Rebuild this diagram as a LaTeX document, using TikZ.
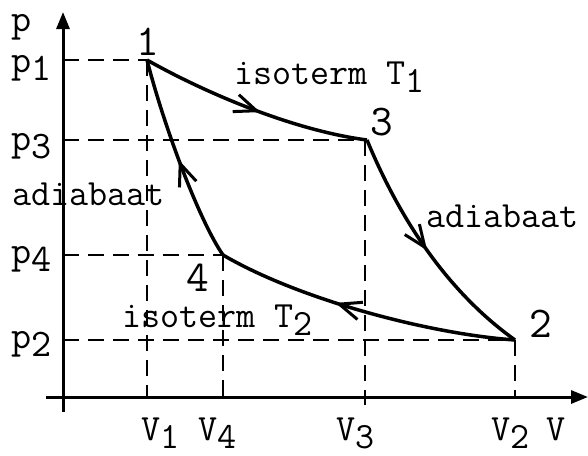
\documentclass[tikz,border=0pt]{standalone}
\usepackage{fontspec}
\usetikzlibrary{arrows.meta,decorations.markings}
\newcommand\lowsub[1]{\raisebox{-8pt}{#1}}
\begin{document}
\begin{tikzpicture}[x=1pt,y=-1pt,
  curve/.style={line width=3.5pt},
  axis/.style={line width=3pt,-{Triangle[length=17pt,width=13pt]}},
  guide/.style={line width=2.8pt,dash pattern=on 16pt off 9pt},
  lbl/.style={font=\ttfamily\fontsize{37}{40}\selectfont, inner sep=0pt, anchor=base west},
  plbl/.style={font=\ttfamily\fontsize{39}{42}\selectfont, inner sep=0pt, anchor=base west},
  num/.style={font=\ttfamily\fontsize{44}{48}\selectfont, inner sep=0pt},
  midarrow/.style={postaction={decorate,decoration={markings,mark=at position #1 with {\arrow{Straight Barb[length=22pt,width=18pt,line width=3pt]}}}}}
]
\useasboundingbox (0,0) rectangle (588,455);
% axes
\coordinate (ybot) at (63,412);
\coordinate (ytop) at (63,12);
\coordinate (xl) at (46,397);
\coordinate (xr) at (588,397);
\draw[axis] (ybot) -- (ytop);
\draw[axis] (xl) -- (xr);
% state points
\coordinate (P1) at (147,60);
\coordinate (P3) at (367,140);
\coordinate (P4) at (223,255);
\coordinate (P2) at (515,340);
% axis feet
\coordinate (a1) at (63,60);
\coordinate (a3) at (63,140);
\coordinate (a4) at (63,255);
\coordinate (a2) at (63,340);
\coordinate (b1) at (147,397);
\coordinate (b4) at (223,397);
\coordinate (t3) at (365,140);
\coordinate (b3) at (365,405);
\coordinate (b2) at (515,397);
% guides
\draw[guide] (a1) -- (P1);
\draw[guide] (a3) -- (P3);
\draw[guide] (a4) -- (P4);
\draw[guide] (a2) -- (P2);
\draw[guide] (P1) -- (b1);
\draw[guide] (P4) -- (b4);
\draw[guide] (t3) -- (b3);
\draw[guide] (P2) -- (b2);
% cycle
\draw[curve,midarrow=0.53] (P1) .. controls (200,90) and (290,130) .. (P3);
\draw[curve,midarrow=0.5] (P3) .. controls (398,215) and (445,290) .. (P2);
\draw[curve,midarrow=0.6] (P2) .. controls (430,334) and (300,300) .. (P4);
\draw[curve,midarrow=0.5] (P4) .. controls (200,222) and (165,130) .. (P1);
% labels
\node[plbl] (lp) at (11,31) {p};
\node[plbl] (lp1) at (11,72) {p\lowsub{1}};
\node[plbl] (lp3) at (11,150) {p\lowsub{3}};
\node[plbl] (lp4) at (11,263) {p\lowsub{4}};
\node[plbl] (lp2) at (11,348) {p\lowsub{2}};
\node[num] (n1) at (148,42) {1};
\node[num] (n3) at (382,122) {3};
\node[num] (n4) at (198,278) {4};
\node[num] (n2) at (541,324) {2};
\node[lbl] (iso1) at (234,84) {isoterm T\lowsub{1}};
\node[lbl] (iso2) at (122,327) {isoterm T\lowsub{2}};
\node[lbl] (ad1) at (12,205) {adiabaat};
\node[lbl] (ad2) at (426,227) {adiabaat};
\node[lbl] (v1) at (141,440) {V\lowsub{1}};
\node[lbl] (v4) at (198,440) {V\lowsub{4}};
\node[lbl] (v3) at (336,440) {V\lowsub{3}};
\node[lbl] (v2) at (491,440) {V\lowsub{2}};
\node[lbl] (v) at (546,440) {V};
\end{tikzpicture}
\end{document}
